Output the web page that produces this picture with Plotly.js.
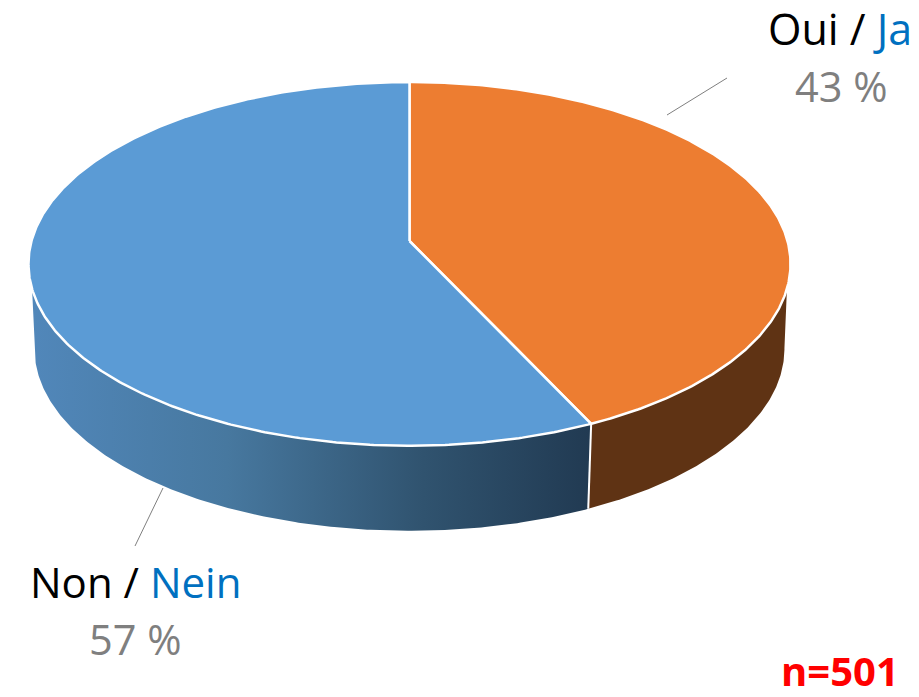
<!DOCTYPE html>
<html>
<head>
<meta charset="utf-8">
<script src="https://cdn.plot.ly/plotly-3.0.1.min.js"></script>
<style>html,body{margin:0;padding:0;background:#fff}#chart{width:919px;height:697px}</style>
</head>
<body>
<div id="chart"></div>
<script>
// Data
const labelsFr = ['Oui', 'Non'];
const labelsDe = ['Ja', 'Nein'];
const shares = [43, 57];
const sampleSize = 501;

// Styles
const topColors = ['#ED7D31', '#5B9BD5'];
const wallOrange = '#5F3314';
const wallBlueScale = [[0, '#5187BA'], [0.35, '#47789F'], [0.7, '#30536F'], [1, '#213A52']];
const FONT = '"Open Sans", sans-serif';

// Tilted-disc projection, expressed in the plot's pixel-sized axis units
const view = {cx: 409.5, cy: 241, a: 378, b: 179, k: 0.126, depth: 85, shrink: 0.984};
function project(deg, lower) {
  const t = deg * Math.PI / 180, u = Math.sin(t), v = Math.cos(t);
  const w = 1 + view.k * v;
  let x = view.cx + view.a * u / w, y = view.cy - view.b * v / w;
  if (lower) { x = view.cx + (x - view.cx) * view.shrink; y += view.depth; }
  return [x, y];
}
function arc(from, to, lower) {
  const n = Math.max(2, Math.ceil(Math.abs(to - from) * 2)), pts = [];
  for (let i = 0; i <= n; i++) pts.push(project(from + (to - from) * i / n, lower));
  return pts;
}
function poly(pts) { return {x: pts.map(p => p[0]), y: pts.map(p => p[1])}; }

const total = shares.reduce((a, b) => a + b, 0);
const cut = shares[0] / total * 360;   // clockwise from the top
const traces = [];

// Side walls: the rim is joined to the lower edge along the silhouette
const wallRight = arc(105, cut, false).concat(arc(cut, 97, true));
traces.push(Object.assign(poly(wallRight), {
  type: 'scatter', mode: 'lines', fill: 'toself', fillcolor: wallOrange,
  line: {width: 0}, hoverinfo: 'skip', showlegend: false
}));
const wallLeft = arc(cut, 255, false).concat(arc(263, cut, true));
traces.push(Object.assign(poly(wallLeft), {
  type: 'scatter', mode: 'lines', fill: 'toself',
  fillgradient: {type: 'horizontal', colorscale: wallBlueScale},
  line: {width: 0}, hoverinfo: 'skip', showlegend: false
}));
// Wall separator
traces.push(Object.assign(poly([project(cut, false), project(cut, true)]), {
  type: 'scatter', mode: 'lines', line: {color: '#FFFFFF', width: 2},
  hoverinfo: 'skip', showlegend: false
}));

// Top faces
let start = 0;
shares.forEach((s, i) => {
  const end = start + s / total * 360;
  const pts = [[view.cx, view.cy]].concat(arc(start, end, false), [[view.cx, view.cy]]);
  traces.push(Object.assign(poly(pts), {
    type: 'scatter', mode: 'lines', fill: 'toself', fillcolor: topColors[i],
    line: {color: '#FFFFFF', width: 2.5},
    name: labelsFr[i] + ' / ' + labelsDe[i], text: s + ' %', hoverinfo: 'name+text',
    showlegend: false
  }));
  start = end;
});

// Leader lines
[[[667, 115], [727, 78]], [[163, 488], [135, 546]]].forEach(l => {
  traces.push(Object.assign(poly(l), {
    type: 'scatter', mode: 'lines', line: {color: '#7F7F7F', width: 1},
    hoverinfo: 'skip', showlegend: false
  }));
});

function note(x, y, text, size, color, bold) {
  return {x, y, xref: 'x', yref: 'y', text: bold ? '<b>' + text + '</b>' : text, showarrow: false,
    xanchor: 'center', yanchor: 'middle', font: {family: FONT, size, color}};
}
function title(i) {
  return labelsFr[i] + ' / <span style="color:#0070C0">' + labelsDe[i] + '</span>';
}
const annotations = [
  note(840, 28, title(0), 43, '#000000'),
  note(841, 86, shares[0] + ' %', 41.5, '#7F7F7F'),
  note(135, 581, title(1), 42, '#000000'),
  note(135, 639, shares[1] + ' %', 41.5, '#7F7F7F'),
  note(840, 670, 'n=' + sampleSize, 40, '#FF0000', true)
];

Plotly.newPlot('chart', traces, {
  width: 919, height: 697,
  margin: {l: 0, r: 0, t: 0, b: 0},
  paper_bgcolor: '#FFFFFF', plot_bgcolor: '#FFFFFF',
  xaxis: {range: [0, 919], visible: false, fixedrange: true},
  yaxis: {range: [697, 0], visible: false, fixedrange: true},
  annotations, showlegend: false
}, {displayModeBar: false, staticPlot: true});
</script>
</body>
</html>
